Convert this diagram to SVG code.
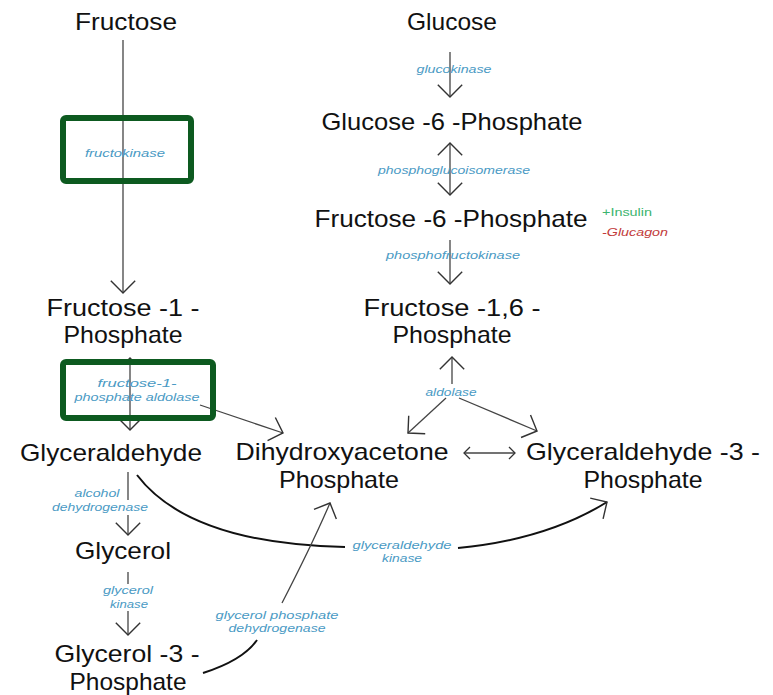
<svg xmlns="http://www.w3.org/2000/svg" width="773" height="695" viewBox="0 0 773 695">
<style>
.n{font-family:"Liberation Sans","Noto Sans",sans-serif;font-size:24px;fill:#111;text-anchor:middle}
.e{font-family:"Liberation Sans","Noto Sans",sans-serif;font-size:11.5px;font-style:italic;fill:#4a9ac4;text-anchor:middle}
.l{fill:none;stroke:#444;stroke-width:1.3}
.c{fill:none;stroke:#111;stroke-width:2}
.box{fill:none;stroke:#0d5a20;stroke-width:6}
</style>
<defs>
<marker id="ah" markerUnits="userSpaceOnUse" markerWidth="30" markerHeight="30" refX="0" refY="0" viewBox="-16 -16 32 32" orient="auto-start-reverse" overflow="visible">
<path d="M-13,-13 L0,0 L-13,13" fill="none" stroke="#333" stroke-width="1.5"/>
</marker>
<marker id="as" markerUnits="userSpaceOnUse" markerWidth="20" markerHeight="20" refX="0" refY="0" viewBox="-10 -10 20 20" orient="auto-start-reverse" overflow="visible">
<path d="M-6,-6 L0,0 L-6,6" fill="none" stroke="#333" stroke-width="1.3"/>
</marker>
</defs>
<rect width="773" height="695" fill="#fff"/>

<g id="connectors">
<line class="l" x1="123" y1="40" x2="123" y2="293" marker-end="url(#ah)"/>
<line class="l" x1="130" y1="358" x2="130" y2="430" marker-end="url(#ah)" marker-start="url(#as)"/>
<line class="l" x1="200" y1="405" x2="283" y2="433" marker-end="url(#ah)"/>
<line class="l" x1="450" y1="52" x2="450" y2="97" marker-end="url(#ah)"/>
<line class="l" x1="450" y1="143" x2="450" y2="195" marker-start="url(#ah)" marker-end="url(#ah)"/>
<line class="l" x1="450" y1="240" x2="450" y2="284" marker-end="url(#ah)"/>
<line class="l" x1="452" y1="357" x2="452" y2="384" marker-start="url(#ah)"/>
<line class="l" x1="446" y1="398" x2="408" y2="433" marker-end="url(#ah)"/>
<line class="l" x1="459" y1="398" x2="537" y2="431" marker-end="url(#ah)"/>
<line class="l" x1="464" y1="453" x2="515" y2="453" marker-start="url(#as)" marker-end="url(#as)"/>
<line class="l" x1="128" y1="472" x2="128" y2="500"/>
<line class="l" x1="128" y1="515" x2="128" y2="535" marker-end="url(#ah)"/>
<line class="l" x1="128" y1="572" x2="128" y2="584"/>
<line class="l" x1="128" y1="611" x2="128" y2="635" marker-end="url(#ah)"/>
<path class="c" d="M137,475 C175,525 250,545 345,547" stroke="#222"/>
<path class="c" d="M458,548 C520,542 570,525 607,502" marker-end="url(#ah)"/>
<path class="c" d="M203,673 C228,665 248,653 257,640"/>
<path class="l" d="M282,603 C298,572 314,540 330,503" stroke="#333" stroke-width="1.6" marker-end="url(#ah)"/>
</g>

<g id="labels">
<text class="e" x="125" y="157" textLength="80" lengthAdjust="spacingAndGlyphs">fructokinase</text>
<text class="e" x="454" y="73" textLength="75" lengthAdjust="spacingAndGlyphs">glucokinase</text>
<text class="e" x="454" y="174" textLength="152" lengthAdjust="spacingAndGlyphs">phosphoglucoisomerase</text>
<text class="e" x="453" y="259" textLength="134" lengthAdjust="spacingAndGlyphs">phosphofructokinase</text>
<text class="e" x="137" y="387" textLength="79" lengthAdjust="spacingAndGlyphs">fructose-1-</text>
<text class="e" x="137" y="401" textLength="125" lengthAdjust="spacingAndGlyphs">phosphate aldolase</text>
<text class="e" x="451" y="396" textLength="51" lengthAdjust="spacingAndGlyphs">aldolase</text>
<text class="e" x="97" y="497" textLength="45" lengthAdjust="spacingAndGlyphs">alcohol</text>
<text class="e" x="100" y="511" textLength="96" lengthAdjust="spacingAndGlyphs">dehydrogenase</text>
<text class="e" x="128" y="594" textLength="50" lengthAdjust="spacingAndGlyphs">glycerol</text>
<text class="e" x="129" y="608" textLength="38" lengthAdjust="spacingAndGlyphs">kinase</text>
<text class="e" x="277" y="619" textLength="123" lengthAdjust="spacingAndGlyphs">glycerol phosphate</text>
<text class="e" x="277" y="632" textLength="97" lengthAdjust="spacingAndGlyphs">dehydrogenase</text>
<text class="e" x="402" y="549" textLength="99" lengthAdjust="spacingAndGlyphs">glyceraldehyde</text>
<text class="e" x="402" y="562" textLength="40" lengthAdjust="spacingAndGlyphs">kinase</text>
<text class="e" x="627" y="216" textLength="50" lengthAdjust="spacingAndGlyphs" style="fill:#3cb46e;font-style:normal">+Insulin</text>
<text class="e" x="635" y="236" textLength="66" lengthAdjust="spacingAndGlyphs" style="fill:#c23b3b">-Glucagon</text>
</g>

<g id="box-fructokinase"><rect class="box" x="63" y="118" width="128" height="63" rx="3"/></g>
<g id="box-aldolase"><rect class="box" x="63" y="362" width="150" height="56" rx="3"/></g>

<g id="fructose"><text class="n" x="126" y="30" textLength="102" lengthAdjust="spacingAndGlyphs">Fructose</text></g>
<g id="glucose"><text class="n" x="452" y="30" textLength="90" lengthAdjust="spacingAndGlyphs">Glucose</text></g>
<g id="glucose-6-phosphate"><text class="n" x="452" y="130" textLength="261" lengthAdjust="spacingAndGlyphs">Glucose -6 -Phosphate</text></g>
<g id="fructose-6-phosphate"><text class="n" x="451" y="227" textLength="273" lengthAdjust="spacingAndGlyphs">Fructose -6 -Phosphate</text></g>
<g id="fructose-1-6-phosphate">
<text class="n" x="452" y="316" textLength="177" lengthAdjust="spacingAndGlyphs">Fructose -1,6 -</text>
<text class="n" x="452" y="343" textLength="119" lengthAdjust="spacingAndGlyphs">Phosphate</text>
</g>
<g id="fructose-1-phosphate">
<text class="n" x="123" y="316" textLength="153" lengthAdjust="spacingAndGlyphs">Fructose -1 -</text>
<text class="n" x="123" y="343" textLength="119" lengthAdjust="spacingAndGlyphs">Phosphate</text>
</g>
<g id="glyceraldehyde"><text class="n" x="111" y="461" textLength="182" lengthAdjust="spacingAndGlyphs">Glyceraldehyde</text></g>
<g id="dhap">
<text class="n" x="342" y="460" textLength="213" lengthAdjust="spacingAndGlyphs">Dihydroxyacetone</text>
<text class="n" x="339" y="488" textLength="120" lengthAdjust="spacingAndGlyphs">Phosphate</text>
</g>
<g id="g3p">
<text class="n" x="643" y="460" textLength="234" lengthAdjust="spacingAndGlyphs">Glyceraldehyde -3 -</text>
<text class="n" x="643" y="488" textLength="119" lengthAdjust="spacingAndGlyphs">Phosphate</text>
</g>
<g id="glycerol"><text class="n" x="123" y="559" textLength="96" lengthAdjust="spacingAndGlyphs">Glycerol</text></g>
<g id="glycerol-3-phosphate">
<text class="n" x="127" y="662" textLength="145" lengthAdjust="spacingAndGlyphs">Glycerol -3 -</text>
<text class="n" x="128" y="690" textLength="117" lengthAdjust="spacingAndGlyphs">Phosphate</text>
</g>
</svg>
